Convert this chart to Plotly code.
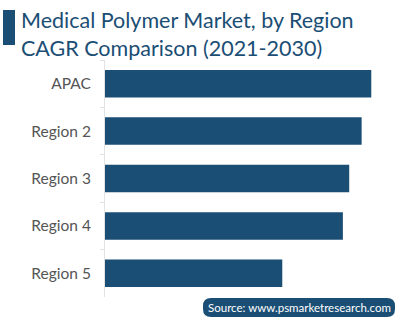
import plotly.graph_objects as go

categories = ["APAC", "Region 2", "Region 3", "Region 4", "Region 5"]
cagr_values = [10.5, 10.12, 9.63, 9.38, 6.99]

W, H = 399, 321
L, R, T, B = 105, 14, 60, 24
pw, ph = W - L - R, H - T - B

def px_x(p):
    return (p - L) / pw

def px_y(p):
    return 1 - (p - T) / ph

BLUE = "#1b4e74"

fig = go.Figure(go.Bar(
    x=cagr_values, y=categories, orientation="h",
    marker=dict(color=BLUE, line=dict(width=0)),
    width=0.58,
))

fig.update_layout(
    width=W, height=H,
    margin=dict(l=L, r=R, t=T, b=B),
    paper_bgcolor="white", plot_bgcolor="white",
    showlegend=False,
    bargap=0.42,
    xaxis=dict(range=[0, pw / 25.36], visible=False, fixedrange=True),
    yaxis=dict(
        autorange="reversed", showline=True, linecolor="#e3e3e3", linewidth=1,
        ticks="outside", tickson="boundaries", ticklen=4, tickcolor="#e3e3e3",
        tickfont=dict(family="Lato", size=15.5, color="#555555"),
        ticklabelstandoff=10, showgrid=False, fixedrange=True,
    ),
)

# title accent bar
fig.add_shape(type="rect", xref="paper", yref="paper",
              x0=px_x(3), x1=px_x(15), y0=px_y(45), y1=px_y(10),
              fillcolor=BLUE, line=dict(width=0))
fig.add_annotation(xref="paper", yref="paper", x=px_x(19), y=px_y(5),
                   xanchor="left", yanchor="top", align="left", showarrow=False,
                   text="Medical Polymer Market, by Region<br>CAGR Comparison (2021-2030)",
                   font=dict(family="Lato", size=21.5, color=BLUE))

# source rounded box
x0, x1, y0, y1, r = 203, 395, 298, 317, 8
path = (f"M {px_x(x0 + r)},{px_y(y0)} L {px_x(x1 - r)},{px_y(y0)} "
        f"Q {px_x(x1)},{px_y(y0)} {px_x(x1)},{px_y(y0 + r)} "
        f"L {px_x(x1)},{px_y(y1 - r)} Q {px_x(x1)},{px_y(y1)} {px_x(x1 - r)},{px_y(y1)} "
        f"L {px_x(x0 + r)},{px_y(y1)} Q {px_x(x0)},{px_y(y1)} {px_x(x0)},{px_y(y1 - r)} "
        f"L {px_x(x0)},{px_y(y0 + r)} Q {px_x(x0)},{px_y(y0)} {px_x(x0 + r)},{px_y(y0)} Z")
fig.add_shape(type="path", xref="paper", yref="paper", path=path,
              fillcolor=BLUE, line=dict(width=0))
fig.add_annotation(xref="paper", yref="paper", x=px_x((x0 + x1) / 2), y=px_y((y0 + y1) / 2),
                   xanchor="center", yanchor="middle", showarrow=False,
                   text="Source: www.psmarketresearch.com",
                   font=dict(family="Lato", size=11.5, color="white"))

fig.write_html("out.html", config={"displayModeBar": False},
               post_script="document.body.style.margin='0';")
